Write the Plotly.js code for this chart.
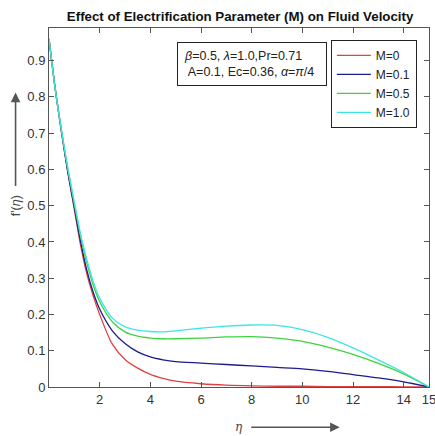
<!DOCTYPE html>
<html>
<head>
<meta charset="utf-8">
<script src="https://cdn.plot.ly/plotly-3.0.1.min.js"></script>
<style>html,body{margin:0;padding:0;background:#fff;}#chart{width:435px;height:436px;}</style>
</head>
<body>
<div id="chart"></div>
<script>
const eta = [0,0.25,0.5,0.75,1,1.25,1.5,1.75,2,2.5,3,3.5,4,4.5,5,6,7,8,9,10,11,12,13,14,15];
const fM0   = [0.96,0.82,0.70,0.59,0.49,0.39,0.31,0.25,0.20,0.118,0.076,0.052,0.035,0.024,0.016,0.009,0.005,0.003,0.002,0.002,0.001,0.001,0.001,0.0005,0];
const fM01  = [0.96,0.82,0.70,0.59,0.495,0.40,0.32,0.26,0.215,0.155,0.12,0.097,0.083,0.075,0.07,0.066,0.062,0.058,0.054,0.05,0.043,0.034,0.025,0.014,0];
const fM05  = [0.96,0.82,0.705,0.60,0.505,0.415,0.34,0.28,0.235,0.18,0.152,0.14,0.135,0.133,0.133,0.135,0.138,0.139,0.135,0.126,0.11,0.09,0.065,0.036,0];
const fM10  = [0.96,0.82,0.705,0.60,0.51,0.42,0.35,0.29,0.245,0.19,0.166,0.157,0.153,0.152,0.155,0.162,0.168,0.171,0.17,0.158,0.137,0.108,0.075,0.04,0];
const names = ['M=0','M=0.1','M=0.5','M=1.0'];
const colors = ['#e04040','#1c1c8c','#3fd23f','#3ce6e6'];
const xticks = [2,4,6,8,10,12,14,15];
const yticks = [0,0.1,0.2,0.3,0.4,0.5,0.6,0.7,0.8,0.9];

const series = [fM0,fM01,fM05,fM10];
const data = series.map((s,i)=>({
  x: eta, y: s, type:'scatter', mode:'lines', name:names[i],
  line:{color:colors[i], width:1.3, shape:'spline', smoothing:0.8}
}));

const axisCommon = {
  showline:true, mirror:'ticks', linecolor:'#555', linewidth:1,
  ticks:'inside', ticklen:5, tickcolor:'#555', showgrid:false, zeroline:false,
  ticklabeloverflow:'allow',
  tickfont:{family:'Liberation Sans, Arial, sans-serif', size:13, color:'#333'}
};

const layout = {
  width:435, height:436,
  margin:{l:49, r:6, t:28, b:49},
  paper_bgcolor:'#fff', plot_bgcolor:'#fff',
  title:{text:'<b>Effect of Electrification Parameter (M) on Fluid Velocity</b>',
    font:{family:'Liberation Sans, Arial, sans-serif', size:13.3, color:'#111'},
    x:0.552, xanchor:'center', y:0.963, yanchor:'middle'},
  xaxis: Object.assign({}, axisCommon, {range:[0,15], tickvals:xticks, ticktext:xticks.map(String)}),
  yaxis: Object.assign({}, axisCommon, {range:[0,0.99], tickvals:yticks, ticktext:yticks.map(String)}),
  showlegend:true,
  legend:{x:0.968, xanchor:'right', y:0.967, yanchor:'top',
    bordercolor:'#222', borderwidth:1, bgcolor:'#fff',
    font:{family:'Liberation Sans, Arial, sans-serif', size:12, color:'#222'},
    tracegroupgap:0, itemwidth:34},
  annotations:[
    {xref:'paper', yref:'paper', x:0.535, y:0.900, xanchor:'center', yanchor:'middle',
     text:'<i>β</i>=0.5, <i>λ</i>=1.0,Pr=0.71<br> A=0.1, Ec=0.36, <i>α</i>=<i>π</i>/4',
     showarrow:false, align:'left', bordercolor:'#222', borderwidth:1, borderpad:6,
     bgcolor:'#fff', width:136,
     font:{family:'Liberation Sans, Arial, sans-serif', size:12.5, color:'#222'}},
    {xref:'paper', yref:'paper', x:-0.088, y:0.505, xanchor:'center', yanchor:'middle',
     text:"f'(<i>η</i>)", textangle:-90, showarrow:false,
     font:{family:'Liberation Sans, Arial, sans-serif', size:12.5, color:'#444'}},
    {xref:'paper', yref:'paper', x:-0.088, y:0.82, ax:0, ay:95,
     text:'', showarrow:true, arrowhead:2, arrowsize:1.2, arrowwidth:1.6, arrowcolor:'#555'},
    {xref:'paper', yref:'paper', x:0.50, y:-0.112, xanchor:'center', yanchor:'middle',
     text:'<i>η</i>', showarrow:false,
     font:{family:'DejaVu Serif, serif', size:12, color:'#444'}},
    {xref:'paper', yref:'paper', x:0.765, y:-0.112, ax:-90, ay:0,
     text:'', showarrow:true, arrowhead:2, arrowsize:1.2, arrowwidth:1.6, arrowcolor:'#555'}
  ]
};

Plotly.newPlot('chart', data, layout, {displayModeBar:false, staticPlot:true});
</script>
</body>
</html>
